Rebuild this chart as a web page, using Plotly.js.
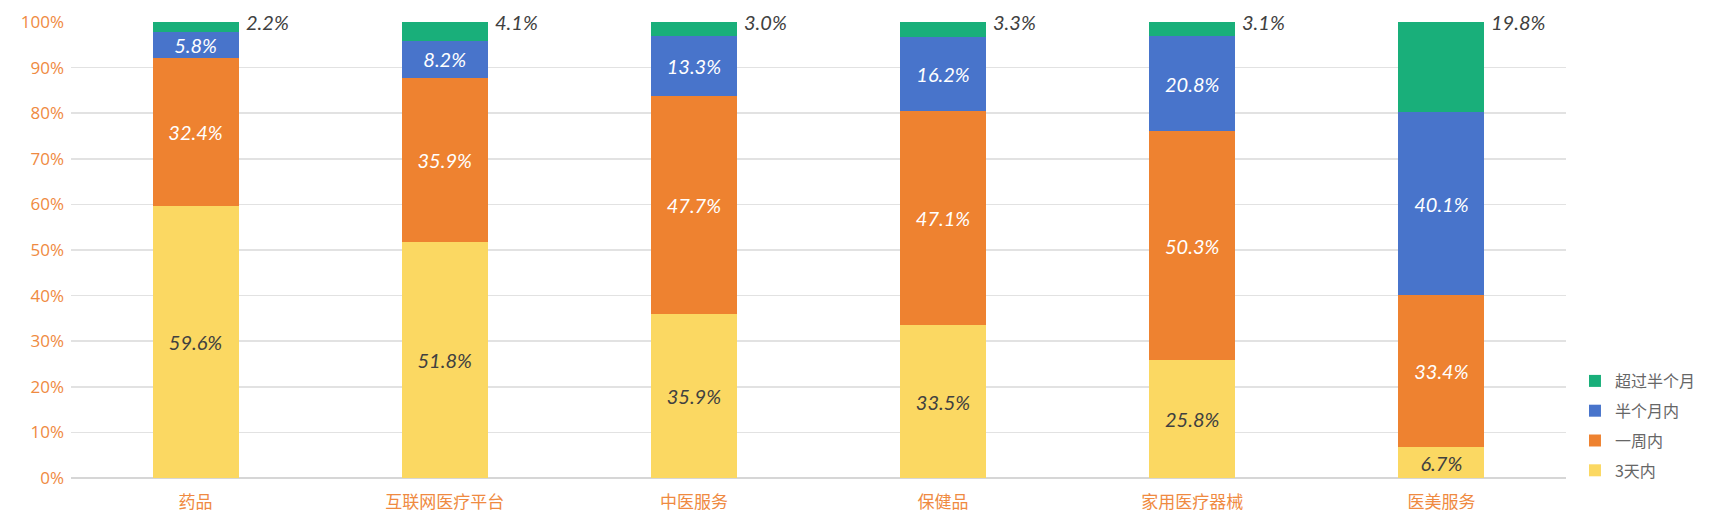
<!DOCTYPE html>
<html><head><meta charset="utf-8">
<script src="https://cdn.plot.ly/plotly-3.0.1.min.js"></script>
<style>html,body{margin:0;padding:0;background:#fff}#c{width:1720px;height:529px}</style>
</head><body><div id="c"></div>
<script>
const categories = ['药品','互联网医疗平台','中医服务','保健品','家用医疗器械','医美服务'];
const seriesNames = ['3天内','一周内','半个月内','超过半个月'];
const within3Days = [59.6, 51.8, 35.9, 33.5, 25.8, 6.7];
const withinWeek = [32.4, 35.9, 47.7, 47.1, 50.3, 33.4];
const withinHalfMonth = [5.8, 8.2, 13.3, 16.2, 20.8, 40.1];
const overHalfMonth = [2.2, 4.1, 3.0, 3.3, 3.1, 19.8];
const yTickVals = [0,10,20,30,40,50,60,70,80,90,100];
const yTickText = ['0%','10%','20%','30%','40%','50%','60%','70%','80%','90%','100%'];

const colors = ['#FBD862','#EE8230','#4874CB','#19AF7A'];
const labelColors = ['#404040','#ffffff','#ffffff','#404040'];
const allSeries = [within3Days, withinWeek, withinHalfMonth, overHalfMonth];
const labelFont = 'Lato, sans-serif';

const traces = allSeries.map((vals, i) => ({
  type: 'bar',
  name: seriesNames[i],
  x: categories,
  y: vals,
  marker: {color: colors[i], line: {width: 0}},
  text: vals.map(v => '<i>' + v.toFixed(1) + '%</i>'),
  textposition: i === 3 ? 'none' : 'inside',
  insidetextanchor: 'middle',
  constraintext: 'none',
  textangle: 0,
  textfont: {family: labelFont, size: 20, color: labelColors[i]},
  hoverinfo: 'none',
  legendgroup: 'g' + i,
  legendrank: 4 - i
}));

const annotations = categories.map((c, j) => ({
  x: c, y: 100, xref: 'x', yref: 'y',
  text: '<i>' + overHalfMonth[j].toFixed(1) + '%</i>',
  showarrow: false, xanchor: 'left', yanchor: 'middle',
  xshift: 48,
  font: {family: labelFont, size: 20, color: '#404040'}
}));

const layout = {
  width: 1720, height: 529,
  margin: {l: 71, r: 154, t: 22, b: 51},
  paper_bgcolor: '#fff', plot_bgcolor: '#fff',
  barmode: 'stack', barnorm: 'percent',
  bargap: 0.655,
  showlegend: true,
  legend: {
    x: 1.006, xanchor: 'left', y: 0.25, yanchor: 'top',
    traceorder: 'grouped', tracegroupgap: 6,
    font: {family: 'Noto Sans CJK SC, sans-serif', size: 16, color: '#666'}
  },
  xaxis: {
    type: 'category',
    tickfont: {family: 'Noto Sans CJK SC, sans-serif', size: 17, color: '#EF8A41'},
    showgrid: false, zeroline: false, showline: false, ticks: '',
    ticklabelstandoff: 12
  },
  yaxis: {
    range: [0, 100], tickvals: yTickVals, ticktext: yTickText,
    tickfont: {family: 'Open Sans, sans-serif', size: 17, color: '#EF8A41'},
    showgrid: true, gridcolor: '#e2e2e2', gridwidth: 1.5,
    zeroline: true, zerolinecolor: '#d6d6d6', zerolinewidth: 2.5,
    ticks: '', ticklabelstandoff: 6
  },
  annotations: annotations
};

Plotly.newPlot('c', traces, layout, {staticPlot: true, displayModeBar: false});
</script>
</body></html>
